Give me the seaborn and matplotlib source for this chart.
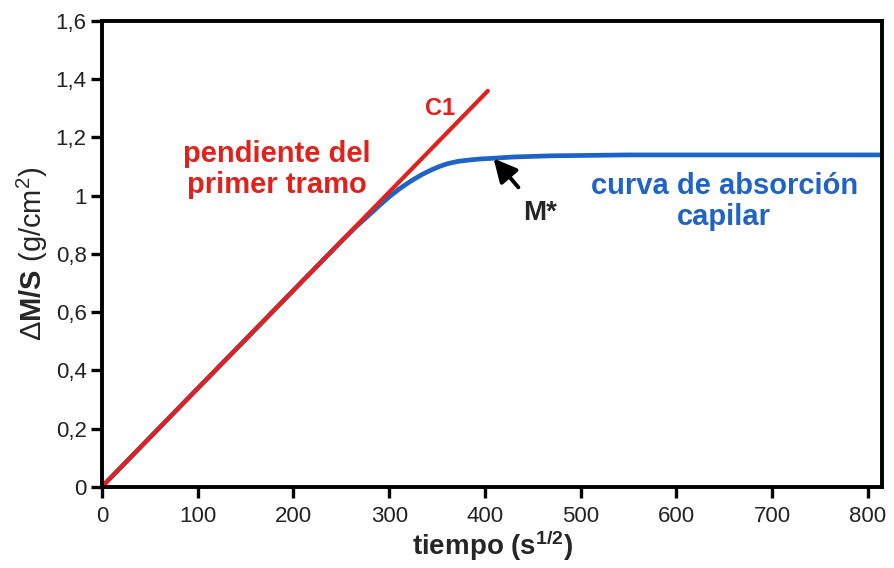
import numpy as np
import pandas as pd
import seaborn as sns
import matplotlib.pyplot as plt
from matplotlib.ticker import FuncFormatter

# absorption curve
tiempo = [0, 50, 100, 150, 200, 250, 265, 280, 291, 300, 310, 318, 325,
          335, 345, 353, 361, 372, 385, 395, 406, 430, 470, 550, 650,
          750, 815]
absorcion = [0, 0.169, 0.338, 0.506, 0.675, 0.843, 0.892, 0.937, 0.970,
             0.996, 1.022, 1.040, 1.055, 1.074, 1.090, 1.101, 1.110,
             1.118, 1.123, 1.126, 1.128, 1.133, 1.137, 1.140, 1.140,
             1.140, 1.140]

# slope of the first stretch (C1)
tiempo_c1 = [0, 403]
pendiente_c1 = [0, 1.36]

x_ticks = [0, 100, 200, 300, 400, 500, 600, 700, 800]
y_ticks = [0, 0.2, 0.4, 0.6, 0.8, 1.0, 1.2, 1.4, 1.6]

red = '#e2211c'
blue = '#1f63c6'

sns.set_style('white')
plt.rcParams['font.family'] = ['Liberation Sans', 'DejaVu Sans']
plt.rcParams['mathtext.fontset'] = 'custom'
plt.rcParams['mathtext.rm'] = 'Liberation Sans'
plt.rcParams['mathtext.it'] = 'Liberation Sans:italic'
plt.rcParams['mathtext.bf'] = 'Liberation Sans:bold'

df_curva = pd.DataFrame({'t': tiempo, 'm': absorcion})
df_c1 = pd.DataFrame({'t': tiempo_c1, 'm': pendiente_c1})

fig, ax = plt.subplots(figsize=(8.94, 5.68), dpi=100)
fig.subplots_adjust(left=0.114, right=0.987, top=0.963, bottom=0.143)

sns.lineplot(data=df_curva, x='t', y='m', color=blue, linewidth=3.4, ax=ax)
sns.lineplot(data=df_c1, x='t', y='m', color=red, linewidth=3.0, ax=ax)

ax.set_xlim(0, 815)
ax.set_ylim(0, 1.6)
ax.set_xticks(x_ticks)
ax.set_yticks(y_ticks)
ax.yaxis.set_major_formatter(FuncFormatter(lambda v, p: f'{v:g}'.replace('.', ',')))
ax.tick_params(direction='out', length=8, width=2.4, labelsize=16, color='black',
               labelcolor='#222222', bottom=True, left=True)
ax.tick_params(axis='x', pad=6)
ax.tick_params(axis='y', pad=3)

for s in ax.spines.values():
    s.set_linewidth(2.8)
    s.set_color('black')

ax.set_xlabel(r'tiempo (s$^{\mathbf{1/2}}$)', fontsize=20, fontweight='bold', labelpad=1)
ax.set_ylabel(r'$\Delta\mathbf{M/S}$ (g/cm$^{2}$)', fontsize=21, labelpad=4)

ax.text(353, 1.30, 'C1', color=red, fontsize=17, fontweight='bold', ha='center', va='center')
ax.text(183, 1.09, 'pendiente del\nprimer tramo', color=red, fontsize=21,
        fontweight='bold', ha='center', va='center', linespacing=1.1)
ax.text(650, 0.98, 'curva de absorción\ncapilar', color=blue, fontsize=21,
        fontweight='bold', ha='center', va='center', linespacing=1.1)
ax.annotate('M*', xy=(409, 1.128), xytext=(458, 0.94), fontsize=20,
            fontweight='bold', ha='center', va='center',
            arrowprops=dict(arrowstyle='-|>,head_length=0.7,head_width=0.35',
                            color='black', lw=2.8, shrinkA=9, shrinkB=0))

fig.savefig('out.png', dpi=100)
